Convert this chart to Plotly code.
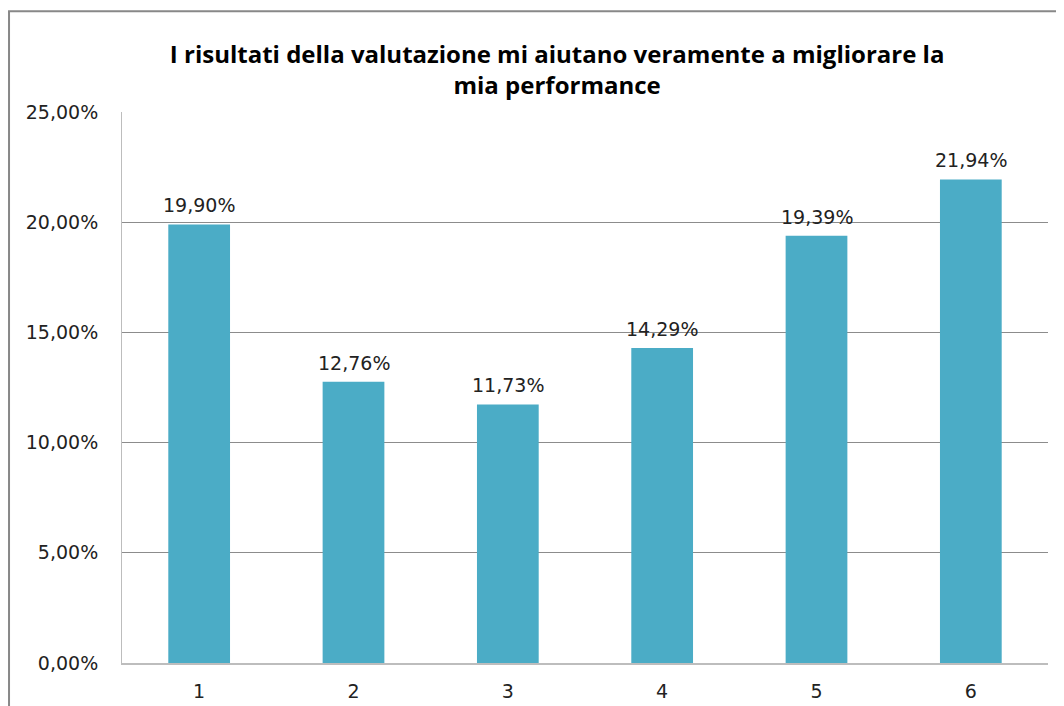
import plotly.graph_objects as go

categories = ["1", "2", "3", "4", "5", "6"]
values = [0.1990, 0.1276, 0.1173, 0.1429, 0.1939, 0.2194]
title_lines = ["I risultati della valutazione mi aiutano veramente a migliorare la", "mia performance"]

label_font = dict(family="DejaVu Sans", size=19, color="#222")

fig = go.Figure(go.Bar(
    x=categories,
    y=values,
    width=0.4,
    marker=dict(color="#4BACC6", line=dict(width=0)),
))

# value labels above each bar (category axis -> position by index)
for idx, val in enumerate(values):
    fig.add_annotation(
        x=idx, y=val,
        text=f"{val * 100:.2f}%".replace(".", ","),
        showarrow=False,
        yanchor="bottom",
        yshift=6,
        font=label_font,
    )

fig.update_layout(
    width=1056,
    height=698,
    separators=",.",
    paper_bgcolor="white",
    plot_bgcolor="white",
    margin=dict(l=114, r=16, t=104, b=43),
    showlegend=False,
    title=dict(
        text="<br>".join(title_lines),
        x=0.520,
        xanchor="center",
        y=0.921,
        yanchor="top",
        font=dict(family="Open Sans", size=24, color="black", weight="bold"),
    ),
    shapes=[dict(type="rect", xref="paper", yref="paper",
                 x0=-0.122, x1=1.05, y0=-0.2, y1=1.183,
                 line=dict(color="#888", width=2))],
)

fig.update_yaxes(
    range=[0, 0.25],
    dtick=0.05,
    tickformat=".2%",
    showgrid=True,
    gridcolor="#8c8c8c",
    gridwidth=1,
    showline=True,
    linecolor="#bdbdbd",
    linewidth=1,
    zeroline=False,
    ticks="",
    ticklabelstandoff=19,
    tickfont=label_font,
    automargin=False,
)
fig.update_xaxes(
    type="category",
    range=[-0.5, 5.5],
    showline=True,
    linecolor="#bdbdbd",
    linewidth=2,
    ticks="",
    ticklabelstandoff=10,
    tickfont=label_font,
    automargin=False,
)

fig.write_html("out.html")
